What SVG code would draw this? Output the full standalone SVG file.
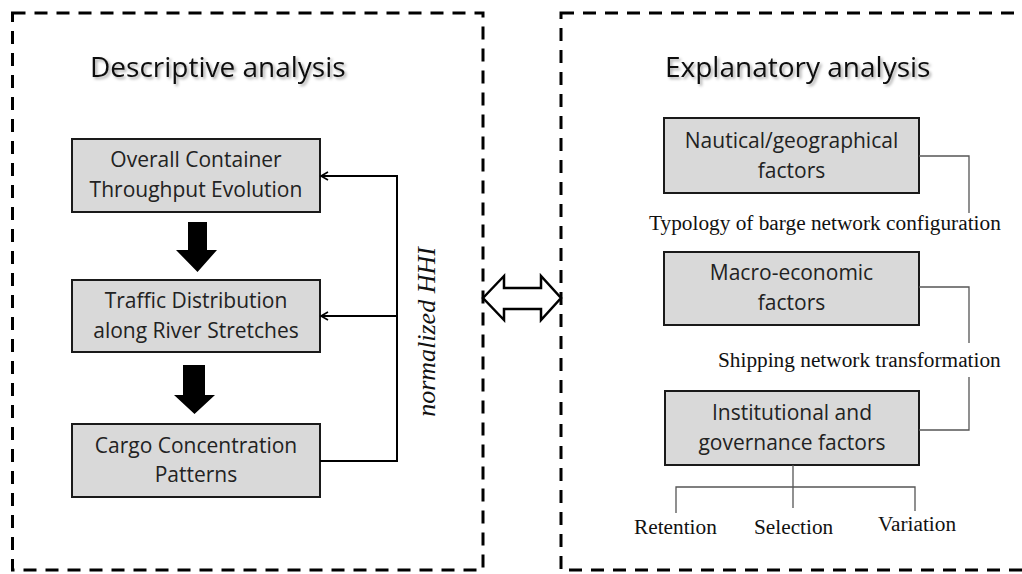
<svg xmlns="http://www.w3.org/2000/svg" width="1022" height="574" viewBox="0 0 1022 574">
<style>
.frame{fill:none;stroke:#000;stroke-width:3;stroke-dasharray:13 9}
.box{fill:#d9d9d9;stroke:#1a1a1a;stroke-width:2}
.bt{font-family:"Open Sans",sans-serif;font-size:21px;fill:#222;text-anchor:middle}
.title{font-family:"Open Sans",sans-serif;font-size:28px;fill:#111}
.serif{font-family:"Liberation Serif",serif;font-size:21.3px;fill:#111}
.hhi{font-family:"Liberation Serif",serif;font-size:26px;font-style:italic;fill:#111;text-anchor:middle}
.fb{fill:none;stroke:#000;stroke-width:2}
.gl{fill:none;stroke:#555;stroke-width:1.3}
</style>
<defs>
<filter id="sh" x="-5%" y="-20%" width="115%" height="160%">
<feDropShadow dx="2" dy="2" stdDeviation="1.5" flood-color="#000" flood-opacity="0.35"/>
</filter>
<marker id="ah" markerWidth="12" markerHeight="12" refX="8" refY="6" orient="auto" markerUnits="userSpaceOnUse">
<polyline points="1,2 8,6 1,10" fill="none" stroke="#000" stroke-width="1.6"/>
</marker>
</defs>

<g id="frame-left"><rect class="frame" x="12.5" y="13" width="470.5" height="557"/></g>
<g id="frame-right"><rect class="frame" x="561" y="13" width="480" height="557"/></g>

<g id="title-descriptive"><text class="title" x="90" y="77" filter="url(#sh)">Descriptive analysis</text></g>
<g id="title-explanatory"><text class="title" x="665" y="77" filter="url(#sh)">Explanatory analysis</text></g>

<g id="node-throughput">
<rect class="box" x="72" y="139" width="248" height="73"/>
<text class="bt" x="196" y="167">Overall Container</text>
<text class="bt" x="196" y="197">Throughput Evolution</text>
</g>
<g id="node-traffic">
<rect class="box" x="72" y="280" width="248" height="72"/>
<text class="bt" x="196" y="308">Traffic Distribution</text>
<text class="bt" x="196" y="338">along River Stretches</text>
</g>
<g id="node-cargo">
<rect class="box" x="72" y="424" width="248" height="73"/>
<text class="bt" x="196" y="453">Cargo Concentration</text>
<text class="bt" x="196" y="482">Patterns</text>
</g>

<g id="node-nautical">
<rect class="box" x="664" y="118" width="255" height="75"/>
<text class="bt" x="791.5" y="148">Nautical/geographical</text>
<text class="bt" x="791.5" y="178">factors</text>
</g>
<g id="node-macro">
<rect class="box" x="664" y="252" width="255" height="73"/>
<text class="bt" x="791.5" y="280">Macro-economic</text>
<text class="bt" x="791.5" y="310">factors</text>
</g>
<g id="node-institutional">
<rect class="box" x="665" y="391" width="254" height="74"/>
<text class="bt" x="792" y="420">Institutional and</text>
<text class="bt" x="792" y="450">governance factors</text>
</g>

<g id="connectors">
<polygon points="188,222 207,222 207,250 217,250 197.5,272 176,250 188,250" fill="#000"/>
<polygon points="183,365 205,365 205,395 215,395 194.5,414 174,395 183,395" fill="#000"/>
<polyline class="fb" points="320,461 397,461 397,176 321,176" marker-end="url(#ah)"/>
<line class="fb" x1="397" y1="316" x2="321" y2="316" marker-end="url(#ah)"/>
<polygon points="483,298 504,276 504,288 541,288 541,276 561,298 541,320 541,309 504,309 504,320" fill="#fff" stroke="#000" stroke-width="2.5" stroke-linejoin="miter"/>
<polyline class="gl" points="919,156 969,156 969,213"/>
<polyline class="gl" points="919,287 969,287 969,343"/>
<polyline class="gl" points="969,377 969,430 919,430"/>
<line class="gl" x1="793" y1="465" x2="793" y2="508"/>
<polyline class="gl" points="676,513 676,487 915,487 915,511"/>
</g>

<g id="labels">
<text class="hhi" x="427" y="332" transform="rotate(-90 427 332)" dy="8">normalized HHI</text>
<text class="serif" x="649" y="230">Typology of barge network configuration</text>
<text class="serif" x="718" y="367">Shipping network transformation</text>
<text class="serif" x="634" y="534">Retention</text>
<text class="serif" x="754" y="534">Selection</text>
<text class="serif" x="878" y="531">Variation</text>
</g>
</svg>
